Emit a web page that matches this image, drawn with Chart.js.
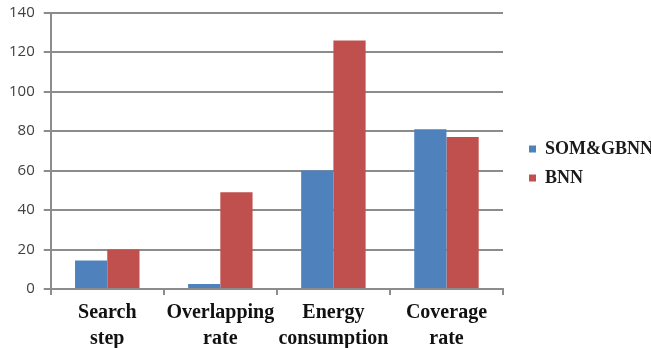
<!DOCTYPE html>
<html>
<head>
<meta charset="utf-8">
<script src="https://cdn.jsdelivr.net/npm/chart.js@4"></script>
<style>
  html, body { margin: 0; padding: 0; background: #fff; }
  #wrap { width: 651px; height: 348px; }
</style>
</head>
<body>
<div id="wrap"><canvas id="myChart"></canvas></div>
<script>
const categories = [["Search", "step"], ["Overlapping", "rate"], ["Energy", "consumption"], ["Coverage", "rate"]];
const somGbnn = [14.5, 2.5, 60, 81];
const bnn = [20, 49, 126, 77];
const yTicks = [0, 20, 40, 60, 80, 100, 120, 140];

const gridGray = "#8c8c8c";

// push the legend right and up a bit, like the original
const legendShift = {
    id: "legendShift",
    afterLayout(chart) {
        chart.legend.left += 15;
        chart.legend.right += 15;
        chart.legend.top -= 15;
        chart.legend.bottom -= 15;
    }
};

new Chart(document.getElementById("myChart"), {
    type: "bar",
    data: {
        labels: categories,
        datasets: [
            { label: "SOM&GBNN", data: somGbnn, backgroundColor: "#4F81BD" },
            { label: "BNN", data: bnn, backgroundColor: "#C0504D" }
        ]
    },
    options: {
        responsive: true,
        maintainAspectRatio: false,
        animation: false,
        layout: { padding: { top: 0, left: 0, right: 3, bottom: -9 } },
        datasets: { bar: { categoryPercentage: 0.57, barPercentage: 1.0 } },
        plugins: {
            tooltip: { enabled: false },
            legend: {
                position: "right",
                labels: {
                    boxWidth: 7,
                    boxHeight: 7,
                    padding: 11,
                    color: "#1a1a1a",
                    font: { family: "Liberation Serif", size: 18, weight: "bold" }
                }
            }
        },
        scales: {
            x: {
                grid: { drawOnChartArea: false, color: gridGray, lineWidth: 2, tickLength: 6 },
                border: { color: gridGray, width: 2 },
                ticks: {
                    autoSkip: false,
                    maxRotation: 0,
                    padding: 5,
                    color: "#111",
                    font: { family: "Liberation Serif", size: 20, weight: "bold", lineHeight: 1.3 }
                }
            },
            y: {
                min: 0,
                max: 140,
                afterBuildTicks(axis) {
                    axis.ticks = yTicks.map(v => ({ value: v }));
                },
                grid: { color: gridGray, lineWidth: 2, tickLength: 7 },
                border: { color: gridGray, width: 2 },
                ticks: {
                    padding: 9,
                    color: "#404040",
                    font: { family: "Open Sans", size: 15, lineHeight: 0.5 }
                }
            }
        }
    },
    plugins: [legendShift]
});
</script>
</body>
</html>
